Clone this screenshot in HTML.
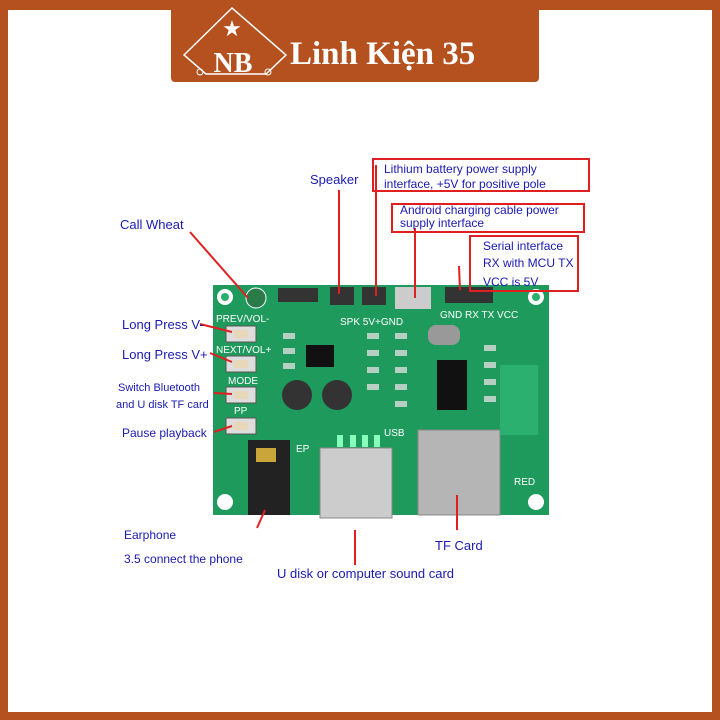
<!DOCTYPE html>
<html><head><meta charset="utf-8"><style>
html,body{margin:0;padding:0;background:#fff}
svg{display:block}
text{font-family:"Liberation Sans",sans-serif}
.sf{font-family:"Liberation Serif",serif}
</style></head><body>
<svg width="720" height="720" viewBox="0 0 720 720">
<rect x="0" y="0" width="720" height="720" fill="#b5501f"/>
<rect x="8" y="10" width="704" height="702" fill="#fff"/>
<rect x="171" y="0" width="368" height="82" rx="4" fill="#b5501f"/>
<polygon points="184,55 232,8 286,55 266,74 206,74" fill="none" stroke="#fff" stroke-width="1.5"/>
<text x="232" y="36" fill="#fff" font-size="22" text-anchor="middle">★</text>
<text x="233" y="72" fill="#fff" font-size="28" font-weight="bold" text-anchor="middle" class="sf">NB</text>
<circle cx="200" cy="72" r="3" fill="none" stroke="#fff"/><circle cx="268" cy="72" r="3" fill="none" stroke="#fff"/>
<text x="290" y="64" fill="#fff" font-size="33" font-weight="bold" class="sf">Linh Kiện 35</text>

<!-- board -->
<rect x="213" y="285" width="336" height="230" fill="#1e9a5c"/>
<g fill="#fff"><circle cx="225" cy="297" r="8"/><circle cx="536" cy="297" r="8"/><circle cx="225" cy="502" r="8"/><circle cx="536" cy="502" r="8"/></g>
<g fill="#2ab06c"><circle cx="225" cy="297" r="4"/><circle cx="536" cy="297" r="4"/></g>
<g fill="#ddd" stroke="#555"><rect x="226" y="326" width="30" height="16"/><rect x="226" y="356" width="30" height="16"/><rect x="226" y="387" width="30" height="16"/><rect x="226" y="418" width="30" height="16"/></g>
<g fill="#e6d8b8"><rect x="234" y="330" width="14" height="8"/><rect x="234" y="360" width="14" height="8"/><rect x="234" y="391" width="14" height="8"/><rect x="234" y="422" width="14" height="8"/></g>
<rect x="248" y="440" width="42" height="75" fill="#222"/>
<rect x="256" y="448" width="20" height="14" fill="#c9a53a"/>
<rect x="320" y="448" width="72" height="70" fill="#ccc" stroke="#888"/>
<g fill="#8fb"><rect x="337" y="435" width="6" height="12"/><rect x="350" y="435" width="6" height="12"/><rect x="362" y="435" width="6" height="12"/><rect x="374" y="435" width="6" height="12"/></g>
<rect x="418" y="430" width="82" height="85" fill="#b5b5b5" stroke="#888"/>
<rect x="306" y="345" width="28" height="22" fill="#111"/>
<rect x="437" y="360" width="30" height="50" fill="#111"/>
<rect x="428" y="325" width="32" height="20" rx="8" fill="#999"/>
<circle cx="297" cy="395" r="15" fill="#333"/><circle cx="337" cy="395" r="15" fill="#333"/>
<rect x="500" y="365" width="38" height="70" fill="#2cb070"/>
<g fill="#ddd" opacity="0.8"><rect x="283" y="333" width="12" height="6"/><rect x="283" y="348" width="12" height="6"/><rect x="283" y="363" width="12" height="6"/><rect x="367" y="333" width="12" height="6"/><rect x="367" y="350" width="12" height="6"/><rect x="367" y="367" width="12" height="6"/><rect x="367" y="384" width="12" height="6"/><rect x="395" y="333" width="12" height="6"/><rect x="395" y="350" width="12" height="6"/><rect x="395" y="367" width="12" height="6"/><rect x="395" y="384" width="12" height="6"/><rect x="395" y="401" width="12" height="6"/><rect x="484" y="345" width="12" height="6"/><rect x="484" y="362" width="12" height="6"/><rect x="484" y="379" width="12" height="6"/><rect x="484" y="396" width="12" height="6"/></g>
<rect x="395" y="287" width="36" height="22" fill="#ccc"/>
<g fill="#333"><rect x="330" y="287" width="24" height="18"/><rect x="362" y="287" width="24" height="18"/><rect x="278" y="288" width="40" height="14"/><rect x="445" y="287" width="48" height="16"/></g>
<circle cx="256" cy="298" r="10" fill="#2a7a4a" stroke="#fff"/>
<g class="sf" font-size="10" fill="#fff"><text x="216" y="322">PREV/VOL-</text><text x="216" y="353">NEXT/VOL+</text><text x="228" y="384">MODE</text><text x="234" y="414">PP</text><text x="340" y="325">SPK 5V+GND</text><text x="440" y="318">GND RX TX VCC</text><text x="384" y="436">USB</text><text x="296" y="452">EP</text><text x="514" y="485">RED</text></g>

<!-- lines -->
<g stroke="#e02020" stroke-width="2" fill="none">
<line x1="190" y1="232" x2="248" y2="298"/>
<line x1="200" y1="324" x2="232" y2="332"/>
<line x1="210" y1="353" x2="232" y2="362"/>
<line x1="214" y1="393" x2="232" y2="394"/>
<line x1="214" y1="432" x2="232" y2="426"/>
<line x1="339" y1="190" x2="339" y2="294"/>
<line x1="376" y1="165" x2="376" y2="296"/>
<line x1="415" y1="228" x2="415" y2="298"/>
<line x1="459" y1="266" x2="460" y2="290"/>
<line x1="470" y1="268" x2="470" y2="290"/>
<line x1="355" y1="530" x2="355" y2="565"/>
<line x1="457" y1="495" x2="457" y2="530"/>
<line x1="265" y1="510" x2="257" y2="528"/>
<rect x="373" y="159" width="216" height="32"/>
<rect x="392" y="204" width="192" height="28"/>
<rect x="470" y="236" width="108" height="55"/>
</g>
<g fill="#1a1ab0" font-size="13">
<text x="310" y="184">Speaker</text>
<text x="120" y="229">Call Wheat</text>
<text x="122" y="329">Long Press V-</text>
<text x="122" y="359">Long Press V+</text>
<text x="118" y="391" font-size="11">Switch Bluetooth</text>
<text x="116" y="408" font-size="11">and U disk TF card</text>
<text x="122" y="437" font-size="12">Pause playback</text>
<text x="124" y="539" font-size="12">Earphone</text>
<text x="124" y="563" font-size="12">3.5 connect the phone</text>
<text x="277" y="578">U disk or computer sound card</text>
<text x="435" y="550">TF Card</text>
<text x="384" y="173" font-size="12">Lithium battery power supply</text>
<text x="384" y="188" font-size="12">interface, +5V for positive pole</text>
<text x="400" y="214" font-size="12">Android charging cable power</text>
<text x="400" y="227" font-size="12">supply interface</text>
<text x="483" y="250" font-size="12">Serial interface</text>
<text x="483" y="267" font-size="12">RX with MCU TX</text>
<text x="483" y="286" font-size="12">VCC is 5V</text>
</g>
</svg>
</body></html>
